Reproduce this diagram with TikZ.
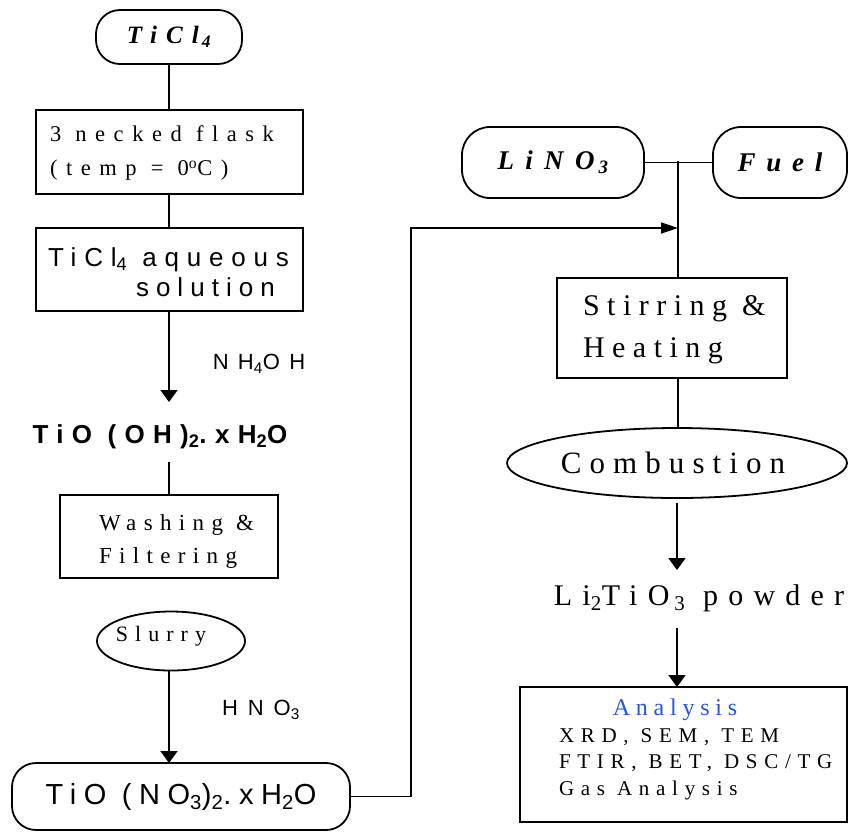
\documentclass[tikz,border=0pt]{standalone}
\usepackage{fontspec}
\usepackage{graphicx}
\setmainfont{Liberation Serif}
\setsansfont{Liberation Sans}
\usetikzlibrary{arrows.meta,shapes.geometric}
\definecolor{anablue}{RGB}{35,85,235}
\newcommand\lsp[1]{\addfontfeatures{LetterSpace=#1}}
\newcommand\fs[2]{\fontsize{#1}{#2}\selectfont}
\tikzset{
  every node/.style={inner sep=0pt, outer sep=0pt},
  pill/.style={draw, rounded corners=24pt, line width=1.8pt},
  boxed/.style={draw, rectangle, line width=1.8pt},
  oval/.style={draw, ellipse, line width=1.8pt},
  txt/.style={anchor=west, align=left},
  link/.style={line width=1.8pt},
  vtip/.style={line width=1.8pt, -{Triangle[length=12pt,width=17pt]}},
  htip/.style={line width=1.8pt, -{Triangle[length=17pt,width=11pt]}},
}
\begin{document}
\begin{tikzpicture}[x=1pt,y=-1pt]
\useasboundingbox (0,0) rectangle (858,833);
% left column
\node[pill, minimum width=146pt, minimum height=54pt, font=\fs{25}{30}\bfseries\itshape\lsp{36}] (ticl) at (169,37)
  {TiCl\hspace{3pt}\textsubscript{4}};
\node[boxed, minimum width=267pt, minimum height=84pt] (flask) at (169.5,152) {};
\node[txt, font=\fs{22.5}{34}\lsp{38}] (flasktxt) at (50,153)
  {3 necked flask\\(temp = 0\textsuperscript{o}C)};
\node[boxed, minimum width=267pt, minimum height=83pt] (aq) at (169.5,269.5) {};
\node[txt, font=\fs{26}{30}\sffamily\lsp{30}] (aqtxt) at (48,272)
  {TiCl\textsubscript{4} aqueous\\\hspace*{88pt}\addfontfeatures{LetterSpace=27}solution};
\node[font=\fs{22}{25}\sffamily\lsp{42}] (nh) at (259,364) {NH\textsubscript{4}OH};
\node[font=\fs{26}{30}\sffamily\bfseries\lsp{32}] (tiooh) at (160,437) {TiO (OH)\textsubscript{2}.xH\textsubscript{2}O};
\node[boxed, minimum width=218pt, minimum height=83pt] (wash) at (169,536.5) {};
\node[txt, font=\fs{23}{33}\lsp{32}] (washtxt) at (99,541)
  {Washing \&\\Filtering};
\node[oval, minimum width=148pt, minimum height=59pt] (slurry) at (171,641) {};
\node[font=\fs{22}{26}\lsp{32}] (slurrytxt) at (161,636) {Slurry};
\node[font=\fs{22}{25}\sffamily\lsp{45}] (hno) at (261,710) {HNO\textsubscript{3}};
\node[pill, minimum width=338pt, minimum height=67pt, font=\fs{29}{32}\sffamily\lsp{26}] (tno) at (181,796.5)
  {TiO (NO\textsubscript{3})\textsubscript{2}.xH\textsubscript{2}O};
% right column
\node[pill, minimum width=182pt, minimum height=71pt, rounded corners=28pt,
  font=\fs{27}{30}\bfseries\itshape\lsp{42}] (lino) at (553,162.5) {LiNO\hspace{4pt}\textsubscript{3}};
\node[pill, minimum width=134pt, minimum height=71pt, rounded corners=28pt,
  font=\fs{27}{30}\bfseries\itshape\lsp{40}] (fuel) at (780,162.5) {Fuel};
\node[boxed, minimum width=230pt, minimum height=100pt] (stir) at (672,328) {};
\node[txt, font=\fs{30}{42}\lsp{25}] (stirtxt) at (583,330)
  {Stirring \&\\Heating};
\node[oval, minimum width=340pt, minimum height=70pt] (comb) at (677,463) {};
\node[font=\fs{31}{34}\lsp{26}] (combtxt) at (673,463) {Combustion};
\node[font=\fs{30}{34}\lsp{34}] (powder) at (699,598) {Li\textsubscript{2}TiO\,\textsubscript{3} powder};
\node[boxed, minimum width=327pt, minimum height=135pt] (ana) at (683.5,754.5) {};
\node[text=anablue, font=\fs{24}{28}\lsp{24}] (anatitle) at (675,710) {Analysis};
\node[txt, font=\fs{21}{26.5}\lsp{32}] (analist) at (559,764)
  {XRD, SEM, TEM\\FTIR, BET, DSC/TG\\Gas Analysis};
% junction coordinates
\coordinate (j) at (678,161);
\coordinate (bend) at (411,228);
\coordinate (feed) at (678,228);
\coordinate (c1) at (169,402);
\coordinate (c2) at (169,462);
% connectors left
\draw[link] (ticl.south) -- (ticl.south |- flask.north);
\draw[link] (ticl.south |- flask.south) -- (ticl.south |- aq.north);
\draw[vtip] (ticl.south |- aq.south) -- (c1);
\draw[link] (c2) -- (ticl.south |- wash.north);
\draw[vtip] (ticl.south |- slurry.south) -- (ticl.south |- tno.north);
% connectors right
\draw[link] (lino.east) -- (fuel.west);
\draw[link] (j) -- (j |- stir.north);
\draw[htip] (tno.east) -| (bend) -- (feed);
\draw[link] (j |- stir.south) -- (j |- comb.north);
\draw[vtip] (677,503) -- (677,570);
\draw[vtip] (677,628) -- (comb.south |- ana.north);
\end{tikzpicture}
\end{document}
